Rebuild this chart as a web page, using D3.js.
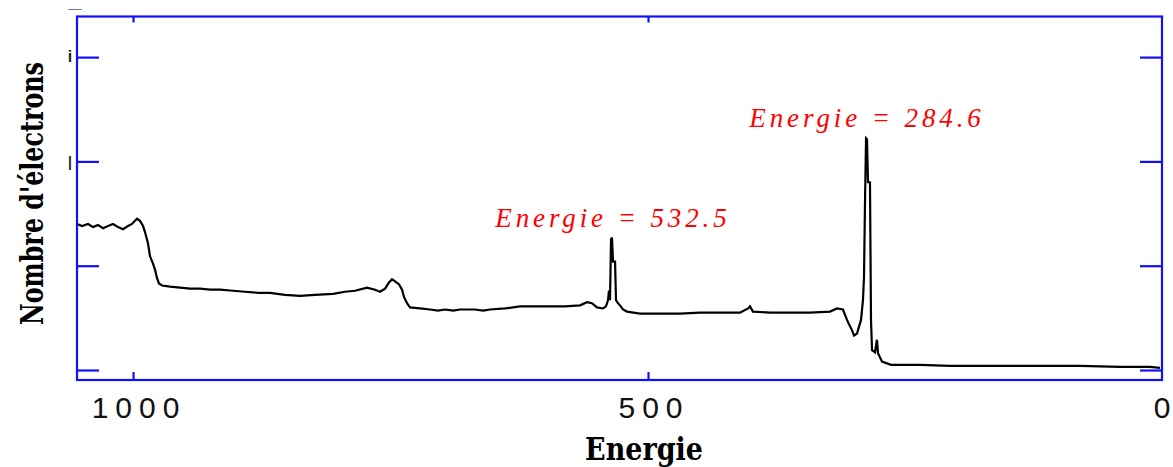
<!DOCTYPE html>
<html>
<head>
<meta charset="utf-8">
<script src="https://cdn.jsdelivr.net/npm/d3@7"></script>
<style>
  html, body { margin: 0; padding: 0; background: #fff; }
  svg { display: block; }
</style>
</head>
<body>
<div id="chart"></div>
<script>
// ---- Data ----
const energies = [1054.4,1049.5,1043.7,1038.8,1034.0,1029.1,1024.3,1019.4,1014.6,1009.7,1004.9,1001.0,998.1,996.1,993.2,990.3,988.3,985.4,983.5,980.6,978.6,976.7,974.8,971.8,964.1,954.4,944.7,935.0,925.2,915.5,902.9,891.3,878.6,867.0,852.4,837.9,823.3,805.8,794.2,784.5,772.8,765.0,760.2,755.3,751.5,748.5,745.6,741.7,738.8,736.9,734.0,731.1,721.4,711.7,704.0,697.1,689.0,682.5,668.0,660.0,653.4,638.8,624.3,609.7,595.1,580.6,566.0,559.2,554.4,549.5,543.7,540.8,538.8,537.9,536.9,535.9,535.0,534.0,532.0,531.1,529.1,527.2,524.3,520.4,507.8,488.3,468.9,449.5,430.1,410.7,402.9,401.0,398.1,381.6,362.1,342.7,323.3,316.5,310.7,306.8,304.9,301.9,300.0,297.1,293.2,291.3,290.3,289.3,288.3,287.4,286.4,284.5,283.5,282.5,279.6,277.7,276.7,272.8,264.1,235.9,206.8,177.7,148.5,119.4,80.6,41.7,19.4,12.6,2.9];
const counts = [14.0,13.8,14.0,13.7,13.9,13.6,13.8,14.0,13.7,13.5,13.8,14.0,14.3,14.5,14.3,13.8,13.2,12.1,10.9,10.2,9.6,8.8,8.3,8.1,8.0,7.9,7.8,7.8,7.7,7.7,7.6,7.5,7.4,7.4,7.2,7.1,7.2,7.3,7.5,7.6,7.9,7.7,7.5,7.8,8.4,8.7,8.5,8.2,7.7,7.0,6.4,6.0,5.9,5.8,5.7,5.8,5.7,5.8,5.8,5.7,5.8,5.9,6.1,6.1,6.1,6.1,6.2,6.5,6.4,6.0,5.9,6.1,6.7,7.6,6.7,12.5,12.7,10.4,10.4,6.7,6.4,6.2,5.8,5.6,5.4,5.4,5.4,5.5,5.5,5.5,5.9,6.1,5.6,5.5,5.5,5.5,5.6,5.9,5.8,4.8,4.4,3.8,3.3,3.5,4.8,6.7,8.9,16.3,22.2,22.1,18.0,18.0,4.8,1.9,1.7,2.9,1.6,0.8,0.5,0.5,0.4,0.4,0.4,0.4,0.4,0.3,0.3,0.3,0.2];

const xTicks = [1000, 500, 0];
const xTickLabels = ["1000", "500", "0"];
const yTicks = [0, 10, 20, 30];

const peakLabels = ["Energie = 532.5", "Energie = 284.6"];
const peakEnergies = [535.0, 288.3];
const peakCounts = [12.7, 22.2];

const xTitle = "Energie";
const yTitle = "Nombre d'électrons";

// ---- Layout ----
const W = 1173, H = 467;
const pLeft = 77, pTop = 16.5, pRight = 1162, pBottom = 380;
const blue = "#1010ff";

const svg = d3.select("#chart").append("svg")
  .attr("width", W).attr("height", H);

const x = d3.scaleLinear().domain([1054.4, 0]).range([pLeft, 1163]);
const y = d3.scaleLinear().domain([0, 30]).range([370, 57.1]);

// curve
const pts = energies.map((e, i) => [e, counts[i]]);
const line = d3.line().x(d => x(d[0])).y(d => y(d[1]));
svg.append("path").datum(pts)
  .attr("d", line)
  .attr("fill", "none")
  .attr("stroke", "#000")
  .attr("stroke-width", 2.2)
  .attr("stroke-linejoin", "miter");

// frame
svg.append("rect")
  .attr("x", pLeft).attr("y", pTop)
  .attr("width", pRight - pLeft).attr("height", pBottom - pTop)
  .attr("fill", "none").attr("stroke", blue).attr("stroke-width", 2.2);

// y ticks (inward, both sides)
const gL = svg.append("g").attr("transform", `translate(${pLeft},0)`)
  .call(d3.axisLeft(y).tickValues(yTicks).tickSize(-22).tickFormat(""));
const gR = svg.append("g").attr("transform", `translate(${pRight},0)`)
  .call(d3.axisRight(y).tickValues(yTicks).tickSize(-22).tickFormat(""));
// x ticks (inward, bottom and top)
const gB = svg.append("g").attr("transform", `translate(0,${pBottom})`)
  .call(d3.axisBottom(x).tickValues(xTicks.filter(t => t > 0)).tickSize(-8).tickFormat(""));
const gT = svg.append("g").attr("transform", `translate(0,${pTop})`)
  .call(d3.axisTop(x).tickValues(xTicks.filter(t => t > 0)).tickSize(-6).tickFormat(""));
[gL, gR, gB, gT].forEach(g => {
  g.select(".domain").remove();
  g.selectAll(".tick line").attr("stroke", blue).attr("stroke-width", 2.2);
});

// x tick labels
svg.append("g").selectAll("text").data(xTicks).join("text")
  .attr("x", d => d === 0 ? x(d) - 1 : x(d) + 6)
  .attr("y", 418)
  .attr("text-anchor", "middle")
  .attr("font-family", "Liberation Sans, Arial, sans-serif")
  .attr("font-size", 30)
  .attr("letter-spacing", (d, i) => xTickLabels[i].length > 1 ? 7 : 0)
  .attr("fill", "#111")
  .text((d, i) => xTickLabels[i]);

// clipped y tick label remnants
svg.append("text").attr("x", 70).attr("y", 62).attr("text-anchor", "middle")
  .attr("font-family", "Liberation Sans, sans-serif").attr("font-size", 16)
  .attr("font-weight", "bold").attr("fill", "#222").text("i");
svg.append("text").attr("x", 70).attr("y", 167).attr("text-anchor", "middle")
  .attr("font-family", "Liberation Sans, sans-serif").attr("font-size", 14)
  .attr("font-weight", "bold").attr("fill", "#222").text("|");
svg.append("text").attr("x", 75).attr("y", 13).attr("text-anchor", "middle")
  .attr("font-family", "Liberation Sans, sans-serif").attr("font-size", 13)
  .attr("fill", "#777").text("\u2014");

// peak annotations
svg.append("g").selectAll("text").data(peakLabels).join("text")
  .attr("x", (d, i) => x(peakEnergies[i]) + 1)
  .attr("y", (d, i) => y(peakCounts[i]) - 11)
  .attr("text-anchor", "middle")
  .attr("font-family", "Liberation Serif, Times New Roman, serif")
  .attr("font-style", "italic")
  .attr("font-size", 27)
  .attr("letter-spacing", 3.9)
  .attr("fill", "#ff0000")
  .text(d => d);

// axis titles
svg.append("text")
  .attr("transform", "translate(644,460) scale(1,1.15)")
  .attr("text-anchor", "middle")
  .attr("font-family", "DejaVu Serif, serif")
  .attr("font-weight", "bold")
  .attr("font-size", 27)
  .attr("fill", "#000")
  .text(xTitle);

svg.append("text")
  .attr("transform", "translate(43,193.5) rotate(-90) scale(1,1.3)")
  .attr("text-anchor", "middle")
  .attr("font-family", "DejaVu Serif, serif")
  .attr("font-weight", "bold")
  .attr("font-size", 24)
  .attr("textLength", 263)
  .attr("lengthAdjust", "spacingAndGlyphs")
  .attr("fill", "#000")
  .text(yTitle);
</script>
</body>
</html>
